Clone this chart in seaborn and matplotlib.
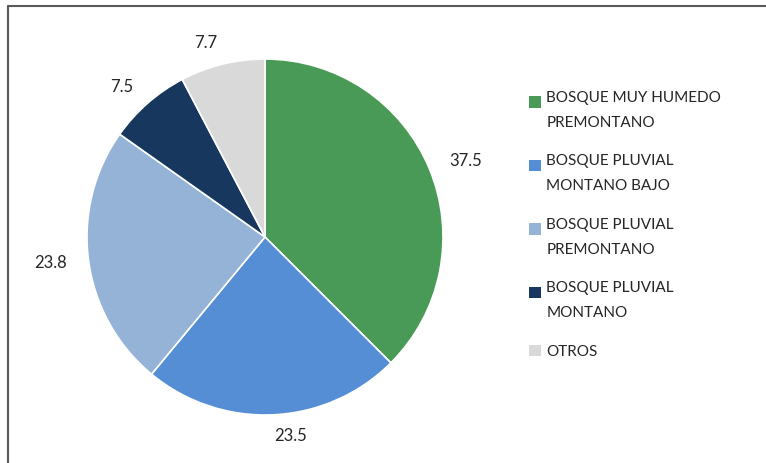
import matplotlib.pyplot as plt
from matplotlib.lines import Line2D
from matplotlib.patches import Rectangle
from matplotlib.legend_handler import HandlerPatch
import seaborn as sns

# Data
categories = ['BOSQUE MUY HUMEDO\nPREMONTANO', 'BOSQUE PLUVIAL\nMONTANO BAJO',
              'BOSQUE PLUVIAL\nPREMONTANO', 'BOSQUE PLUVIAL\nMONTANO', 'OTROS']
values = [37.5, 23.5, 23.8, 7.5, 7.7]
colors = ['#4a9a57', '#558ed5', '#95b3d7', '#17375e', '#d9d9d9']

sns.set_theme(style='white')
plt.rcParams['font.family'] = ['Lato', 'DejaVu Sans']

fig = plt.figure(figsize=(7.66, 4.63), dpi=100)
ax = fig.add_axes([87 / 766, (463 - 237 - 178) / 463, 356 / 766, 356 / 463])

wedges, texts = ax.pie(values, labels=[f'{v:.1f}' for v in values], colors=colors,
                       startangle=90, counterclock=False, labeldistance=1.12,
                       wedgeprops=dict(edgecolor='white', linewidth=1.2),
                       textprops=dict(fontsize=12, color='#262626'))
ax.set_xlim(-1, 1)
ax.set_ylim(-1, 1)
ax.set_aspect('equal')
for t in texts:
    t.set_clip_on(False)

# legend squares sit next to the first line of two-line labels
two_line = {id(w) for w, c in zip(wedges, categories) if '\n' in c}


def square(legend, orig_handle, xdescent, ydescent, width, height, fontsize):
    dy = 6.0 if id(orig_handle) in two_line else 0.0
    return Rectangle((-xdescent, -ydescent + dy), width, height)


leg = fig.legend(wedges, categories, loc='upper left',
                 bbox_to_anchor=(515 / 766, 1 - 77 / 463), frameon=False,
                 fontsize=11, handlelength=0.8, handleheight=0.8,
                 handletextpad=0.35, labelspacing=1.6,
                 handler_map={w: HandlerPatch(patch_func=square) for w in wedges})
for t in leg.get_texts():
    t.set_color('#262626')
    t.set_linespacing(2.0)
for h in leg.legend_handles:
    h.set_edgecolor('none')

# Chart border (left and top edges visible)
fig.add_artist(Line2D([7.5 / 766, 7.5 / 766], [0, 1 - 5.5 / 463], color='#5a5a5a', linewidth=1.5))
fig.add_artist(Line2D([7.5 / 766, 1], [1 - 5.5 / 463, 1 - 5.5 / 463], color='#5a5a5a', linewidth=1.5))

fig.savefig('out.png', dpi=100)
